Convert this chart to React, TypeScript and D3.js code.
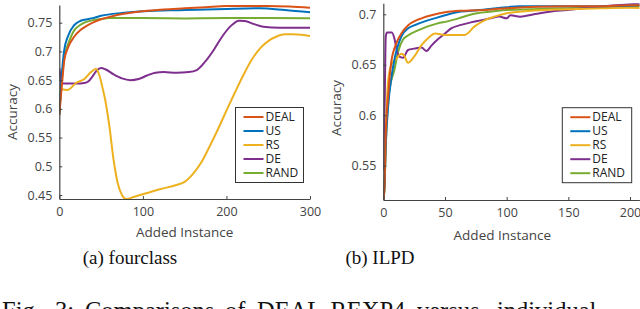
import React, { useEffect, useRef } from 'react'
import * as d3 from 'd3'

const seriesNames = ['DEAL', 'US', 'RS', 'DE', 'RAND']
const seriesColors = ['#D95319', '#0072BD', '#EDB120', '#7E2F8E', '#77AC30']

// (a) fourclass
const fcDealX = [0, 3, 6, 10, 18, 25, 30, 40, 50, 60, 75, 100, 125, 150, 175, 200, 225, 250, 275, 300]
const fcDealY = [0.59, 0.64, 0.685, 0.705, 0.726, 0.737, 0.742, 0.75, 0.756, 0.76, 0.765, 0.77, 0.773, 0.775, 0.777, 0.779, 0.779, 0.779, 0.778, 0.776]
const fcUsX = [0, 3, 6, 10, 18, 25, 30, 40, 50, 75, 100, 150, 200, 240, 270, 300]
const fcUsY = [0.59, 0.66, 0.703, 0.725, 0.746, 0.753, 0.755, 0.758, 0.762, 0.767, 0.77, 0.772, 0.774, 0.775, 0.772, 0.768]
const fcRsX = [0, 3, 10, 20, 30, 38, 44, 48, 52, 55, 60, 65, 70, 75, 80, 90, 104, 120, 140, 150, 160, 170, 180, 190, 200, 210, 220, 230, 240, 250, 260, 270, 280, 290, 300]
const fcRsY = [0.64, 0.634, 0.633, 0.645, 0.652, 0.664, 0.67, 0.658, 0.635, 0.615, 0.569, 0.511, 0.47, 0.45, 0.443, 0.447, 0.453, 0.46, 0.4675, 0.473, 0.487, 0.507, 0.535, 0.565, 0.597, 0.628, 0.658, 0.685, 0.705, 0.718, 0.726, 0.73, 0.73, 0.729, 0.727]
const fcDeX = [0, 1, 2, 5, 20, 30, 35, 40, 45, 50, 55, 65, 75, 85, 95, 105, 115, 125, 140, 155, 165, 175, 185, 195, 205, 215, 222, 232, 244, 264, 300]
const fcDeY = [0.671, 0.66, 0.645, 0.644, 0.644, 0.645, 0.648, 0.657, 0.667, 0.671, 0.669, 0.66, 0.653, 0.65, 0.652, 0.658, 0.663, 0.664, 0.663, 0.664, 0.668, 0.683, 0.703, 0.726, 0.744, 0.7535, 0.753, 0.748, 0.743, 0.741, 0.741]
const fcRandX = [0, 3, 6, 10, 18, 25, 30, 40, 50, 60, 100, 150, 200, 250, 300]
const fcRandY = [0.59, 0.65, 0.69, 0.71, 0.737, 0.746, 0.75, 0.7545, 0.7565, 0.758, 0.758, 0.7575, 0.758, 0.758, 0.7578]

// (b) ILPD
const ilDealX = [0, 1, 2, 4, 6.5, 10.5, 14.6, 20, 25, 31, 39, 50, 63, 76, 100, 125, 150, 175, 200, 210]
const ilDealY = [0.516, 0.53, 0.58, 0.62, 0.653, 0.671, 0.681, 0.689, 0.693, 0.696, 0.699, 0.702, 0.7035, 0.704, 0.706, 0.7075, 0.708, 0.708, 0.709, 0.709]
const ilUsX = [0, 1, 2, 4, 6.5, 9, 14.6, 20, 25, 33.5, 41.6, 50, 63, 76, 100, 110, 150, 180, 210]
const ilUsY = [0.516, 0.53, 0.57, 0.61, 0.637, 0.655, 0.678, 0.686, 0.689, 0.693, 0.696, 0.699, 0.7027, 0.704, 0.707, 0.708, 0.708, 0.708, 0.709]
const ilRsX = [0, 1, 2, 4, 6.5, 10.5, 14.6, 17, 20, 25, 31, 36, 42, 50, 58, 66, 74, 82, 90, 100, 122, 149, 176, 200, 210]
const ilRsY = [0.516, 0.53, 0.58, 0.635, 0.65, 0.656, 0.661, 0.659, 0.652, 0.658, 0.6695, 0.676, 0.681, 0.6795, 0.6795, 0.6795, 0.688, 0.694, 0.6977, 0.701, 0.7037, 0.705, 0.706, 0.7065, 0.706]
const ilDeX = [0, 1, 2, 3, 7, 9, 11, 13, 16, 20, 25, 31, 35, 39, 44, 50, 55, 63, 71, 79, 87, 94, 100, 103, 111, 122, 135, 149, 162, 176, 189, 200, 210]
const ilDeY = [0.545, 0.6, 0.678, 0.682, 0.682, 0.676, 0.664, 0.658, 0.657, 0.6646, 0.666, 0.667, 0.6636, 0.669, 0.675, 0.681, 0.686, 0.6895, 0.692, 0.694, 0.696, 0.6977, 0.696, 0.699, 0.6976, 0.7, 0.7026, 0.7043, 0.706, 0.7075, 0.709, 0.71, 0.7105]
const ilRandX = [0, 1, 2, 5, 9, 12, 16, 20, 28, 36, 44, 52, 61, 69, 76, 88, 100, 120, 150, 180, 210]
const ilRandY = [0.516, 0.53, 0.57, 0.625, 0.645, 0.663, 0.675, 0.679, 0.684, 0.688, 0.691, 0.693, 0.696, 0.699, 0.701, 0.7027, 0.7043, 0.705, 0.706, 0.707, 0.708]

const fcXTicks = [0, 100, 200, 300]
const fcYTicks = [0.45, 0.5, 0.55, 0.6, 0.65, 0.7, 0.75]
const ilXTicks = [0, 50, 100, 150, 200]
const ilYTicks = [0.55, 0.6, 0.65, 0.7]

// figure caption, justified in the page (word start positions)
const figWords = ['Fig.', '3:', 'Comparisons', 'of', 'DEAL-REXP4', 'versus', 'individual']
const figWordX = [2, 55, 85, 225, 257, 417, 497]

const fcSeries = [
  [fcDealX, fcDealY],
  [fcUsX, fcUsY],
  [fcRsX, fcRsY],
  [fcDeX, fcDeY],
  [fcRandX, fcRandY]
]
const ilSeries = [
  [ilDealX, ilDealY],
  [ilUsX, ilUsY],
  [ilRsX, ilRsY],
  [ilDeX, ilDeY],
  [ilRandX, ilRandY]
]

const sans = '"Open Sans", "DejaVu Sans", sans-serif'
const serif = '"Liberation Serif", serif'
const axisColor = '#444'

function drawPanel(svg, cfg) {
  const x = d3.scaleLinear().domain(cfg.xDomain).range(cfg.xRange)
  const y = d3.scaleLinear().domain(cfg.yDomain).range(cfg.yRange)
  const g = svg.append('g')

  g.append('clipPath')
    .attr('id', cfg.id)
    .append('rect')
    .attr('x', cfg.xRange[0])
    .attr('y', cfg.yRange[1])
    .attr('width', cfg.xRange[1] - cfg.xRange[0])
    .attr('height', cfg.yRange[0] - cfg.yRange[1])

  const line = d3
    .line()
    .x(d => x(d[0]))
    .y(d => y(d[1]))
    .curve(d3.curveMonotoneX)

  // draw RAND first, DEAL last so DEAL sits on top
  const order = [4, 3, 2, 1, 0]
  order.forEach(i => {
    const [xs, ys] = cfg.series[i]
    const pts = xs.map((v, j) => [v, ys[j]])
    g.append('path')
      .attr('d', line(pts))
      .attr('fill', 'none')
      .attr('stroke', seriesColors[i])
      .attr('stroke-width', 2)
      .attr('stroke-linejoin', 'round')
      .attr('clip-path', `url(#${cfg.id})`)
  })

  const xAxis = g
    .append('g')
    .attr('transform', `translate(0, ${cfg.yRange[0]})`)
    .call(d3.axisBottom(x).tickValues(cfg.xTicks).tickSizeInner(-3).tickSizeOuter(0).tickPadding(8))
  const yAxis = g
    .append('g')
    .attr('transform', `translate(${cfg.xRange[0]}, 0)`)
    .call(
      d3
        .axisLeft(y)
        .tickValues(cfg.yTicks)
        .tickFormat(d => `${+d.toFixed(2)}`)
        .tickSizeInner(-3)
        .tickSizeOuter(0)
        .tickPadding(7)
    )
  ;[xAxis, yAxis].forEach(a => {
    a.select('.domain').attr('stroke', axisColor).attr('stroke-width', 1.2)
    a.selectAll('line').attr('stroke', axisColor)
    a.selectAll('text').attr('fill', axisColor).attr('font-family', sans).attr('font-size', 12.5)
  })

  g.append('text')
    .attr('x', (cfg.xRange[0] + cfg.xRange[1]) / 2 + cfg.xLabelShift)
    .attr('y', cfg.xLabelY)
    .attr('text-anchor', 'middle')
    .attr('fill', axisColor)
    .attr('font-family', sans)
    .attr('font-size', 13.5)
    .text('Added Instance')

  g.append('text')
    .attr('transform', `translate(${cfg.yLabelX}, ${cfg.yLabelY}) rotate(-90)`)
    .attr('text-anchor', 'middle')
    .attr('fill', axisColor)
    .attr('font-family', sans)
    .attr('font-size', 13.5)
    .text('Accuracy')

  // legend
  const lg = g.append('g').attr('transform', `translate(${cfg.legend[0]}, ${cfg.legend[1]})`)
  lg.append('rect')
    .attr('width', cfg.legend[2])
    .attr('height', 75)
    .attr('fill', '#fff')
    .attr('stroke', '#333')
    .attr('stroke-width', 1)
  seriesNames.forEach((name, i) => {
    const cy = 9.5 + i * 14
    lg.append('line')
      .attr('x1', 8)
      .attr('x2', 28)
      .attr('y1', cy)
      .attr('y2', cy)
      .attr('stroke', seriesColors[i])
      .attr('stroke-width', 2)
    lg.append('text')
      .attr('x', 30)
      .attr('y', cy + 4.3)
      .attr('fill', '#222')
      .attr('font-family', sans)
      .attr('font-size', 12)
      .text(name)
  })

  g.append('text')
    .attr('x', cfg.caption[0])
    .attr('y', 264)
    .attr('text-anchor', 'middle')
    .attr('font-family', serif)
    .attr('font-size', 19)
    .attr('fill', '#111')
    .text(cfg.caption[1])
}

export default function App() {
  const ref = useRef(null)

  useEffect(() => {
    const svg = d3.select(ref.current)
    svg.selectAll('*').remove()

    drawPanel(svg, {
      id: 'clip-a',
      series: fcSeries,
      xDomain: [0, 300],
      xRange: [59.3, 310],
      yDomain: [0.4431, 0.7808],
      yRange: [199, 5],
      xTicks: fcXTicks,
      yTicks: fcYTicks,
      xLabelShift: 0,
      xLabelY: 237,
      yLabelX: 17,
      yLabelY: 112,
      legend: [235.5, 107.5, 68],
      caption: [130, '(a) fourclass']
    })

    drawPanel(svg, {
      id: 'clip-b',
      series: ilSeries,
      xDomain: [0, 207.6],
      xRange: [383.3, 639.4],
      yDomain: [0.516, 0.7109],
      yRange: [200, 3.3],
      xTicks: ilXTicks,
      yTicks: ilYTicks,
      xLabelShift: -9,
      xLabelY: 240,
      yLabelX: 341,
      yLabelY: 108,
      legend: [562.3, 107.7, 69.4],
      caption: [380, '(b) ILPD']
    })

    const fig = svg
      .append('text')
      .attr('y', 319)
      .attr('font-family', serif)
      .attr('font-size', 24.5)
      .attr('fill', '#111')
    figWords.forEach((w, i) => {
      fig.append('tspan').attr('x', figWordX[i]).text(w)
    })
  }, [])

  return (
    <svg
      ref={ref}
      width={640}
      height={309}
      style={{ position: 'absolute', left: 0, top: 0, background: '#fff' }}
    />
  )
}
